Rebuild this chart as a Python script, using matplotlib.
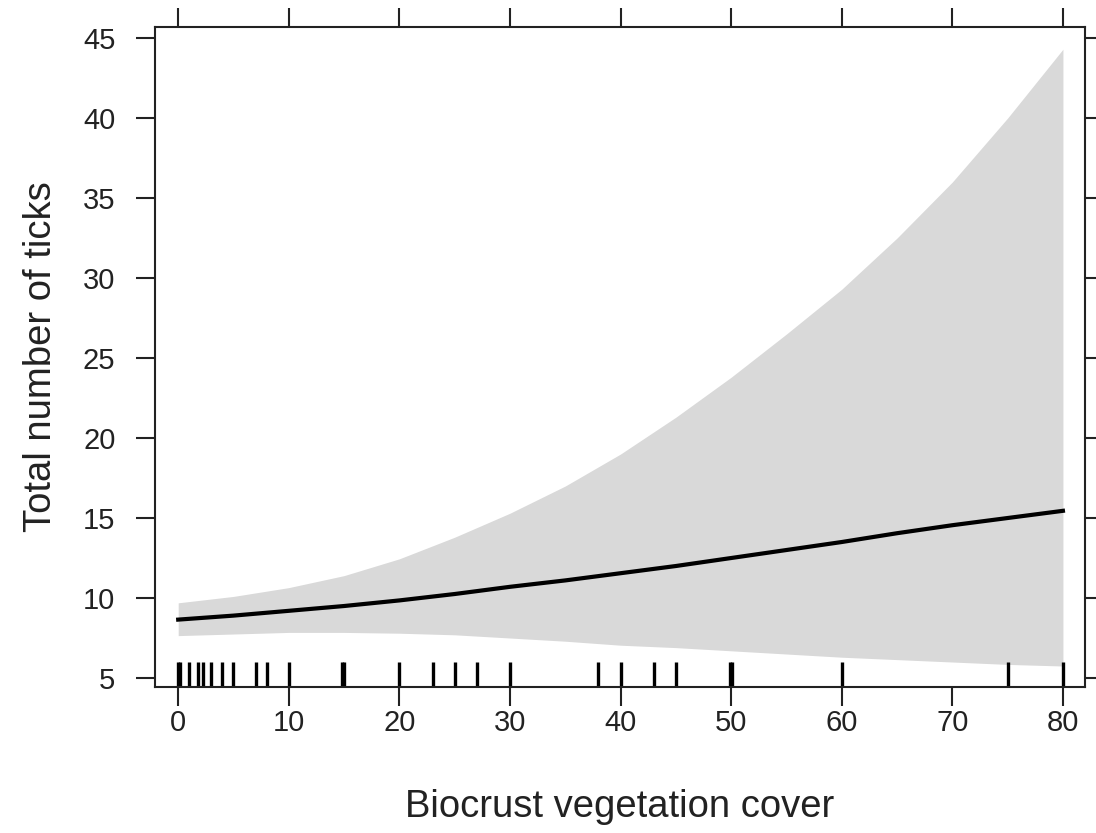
import matplotlib
matplotlib.use('Agg')
import matplotlib.pyplot as plt

plt.rcParams['font.family'] = ['Liberation Sans', 'DejaVu Sans']

# effect of biocrust cover on tick counts (fit with confidence band)
cover = [0, 5, 10, 15, 20, 25, 30, 35, 40, 45, 50, 55, 60, 65, 70, 75, 80]
fit = [8.65, 8.9, 9.2, 9.5, 9.85, 10.25, 10.7, 11.1, 11.55, 12.0, 12.5, 13.0, 13.5, 14.05, 14.55, 15.0, 15.45]
upper = [9.7, 10.1, 10.65, 11.4, 12.45, 13.8, 15.3, 17.0, 19.0, 21.3, 23.8, 26.5, 29.3, 32.5, 36.0, 40.0, 44.3]
lower = [7.65, 7.75, 7.85, 7.85, 7.8, 7.7, 7.5, 7.3, 7.05, 6.9, 6.7, 6.5, 6.3, 6.15, 6.0, 5.85, 5.75]

# observed cover values (rug)
observed = [0, 0.2, 1, 1.8, 2.2, 3, 4, 5, 7, 8, 10, 14.8, 15, 20, 23, 25, 27, 30,
            38, 40, 43, 45, 49.9, 50.1, 60, 75, 80]

xticks = [0, 10, 20, 30, 40, 50, 60, 70, 80]
yticks = [5, 10, 15, 20, 25, 30, 35, 40, 45]

fig = plt.figure(figsize=(10.96, 8.33), dpi=100)
ax = fig.add_axes([0.1414, 0.1753, 0.8486, 0.7923])

ax.fill_between(cover, lower, upper, color='#d9d9d9', linewidth=0)
ax.plot(cover, fit, color='black', linewidth=3)

# rug along the bottom edge
ax.vlines(observed, 0, 0.038, transform=ax.get_xaxis_transform(),
          color='black', linewidth=2.4)

ax.set_xlim(-2.1, 82.0)
ax.set_ylim(4.44, 45.69)
ax.set_xticks(xticks)
ax.set_yticks(yticks)

for side in ax.spines.values():
    side.set_linewidth(1.5)
    side.set_color('#222222')

ax.tick_params(axis='both', which='both', direction='out', length=13.5, width=1.5,
               color='#222222', labelsize=21, labelcolor='#222222',
               top=True, right=True, labeltop=False, labelright=False)
ax.tick_params(axis='x', pad=2)
ax.tick_params(axis='y', pad=15)

ax.set_xlabel('Biocrust vegetation cover', fontsize=27.5, labelpad=38, color='#222222')
ax.set_ylabel('Total number of ticks', fontsize=27.5, labelpad=17, color='#222222')

fig.savefig('out.png', dpi=100)
